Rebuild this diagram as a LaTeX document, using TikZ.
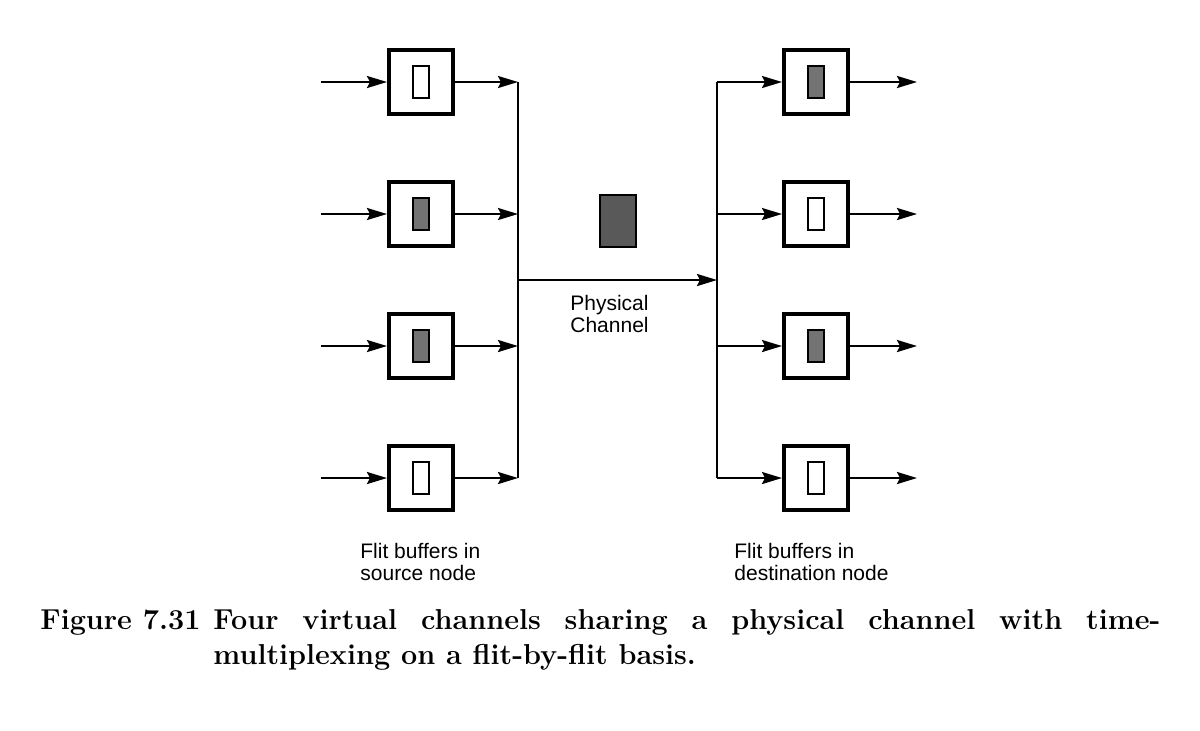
\documentclass[tikz,border=0pt]{standalone}
\usepackage{fontspec}
\newfontfamily\helv{Liberation Sans}
\usetikzlibrary{positioning}
\usetikzlibrary{arrows.meta}
\usetikzlibrary{calc}

\tikzset{
    buffer/.style={draw, line width=2pt, minimum size=32pt, inner sep=0pt},
    flit/.style={draw, line width=1pt, minimum width=8pt, minimum height=16pt, inner sep=0pt},
    fullflit/.style={flit, fill=black!55},
    packet/.style={draw, line width=1pt, fill=black!65, minimum width=18pt, minimum height=26pt, inner sep=0pt},
    wire/.style={line width=1.2pt},
    arr/.style={wire, -{Stealth[length=10pt,width=6pt,inset=1.5pt]}},
    lbl/.style={font=\helv\fontsize{10.5}{11}\selectfont, align=left, inner sep=0pt},
}

\begin{document}
\begin{tikzpicture}[x=0.5pt,y=-0.5pt, node distance=32pt]
    \useasboundingbox (0,0) rectangle (1200,730);

    % source buffers
    \node(s1) [buffer] at (421,82) {};
    \node(s2) [buffer, below=of s1] {};
    \node(s3) [buffer, below=of s2] {};
    \node(s4) [buffer, below=of s3] {};

    % destination buffers
    \node(d1) [buffer, right=163.5pt of s1] {};
    \node(d2) [buffer, right=163.5pt of s2] {};
    \node(d3) [buffer, right=163.5pt of s3] {};
    \node(d4) [buffer, right=163.5pt of s4] {};

    % flits
    \node(s1f) [flit] at (s1) {};
    \node(s2f) [fullflit] at (s2) {};
    \node(s3f) [fullflit] at (s3) {};
    \node(s4f) [flit] at (s4) {};
    \node(d1f) [fullflit] at (d1) {};
    \node(d2f) [flit] at (d2) {};
    \node(d3f) [fullflit] at (d3) {};
    \node(d4f) [flit] at (d4) {};

    % wire ends
    \coordinate[left=33pt of s1] (s1in);
    \coordinate[left=33pt of s2] (s2in);
    \coordinate[left=33pt of s3] (s3in);
    \coordinate[left=33pt of s4] (s4in);
    \coordinate[right=31.5pt of s1] (lb1);
    \coordinate[right=31.5pt of s2] (lb2);
    \coordinate[right=31.5pt of s3] (lb3);
    \coordinate[right=31.5pt of s4] (lb4);
    \coordinate[left=32.5pt of d1] (rb1);
    \coordinate[left=32.5pt of d2] (rb2);
    \coordinate[left=32.5pt of d3] (rb3);
    \coordinate[left=32.5pt of d4] (rb4);
    \coordinate[right=33.5pt of d1] (d1out);
    \coordinate[right=33.5pt of d2] (d2out);
    \coordinate[right=33.5pt of d3] (d3out);
    \coordinate[right=33.5pt of d4] (d4out);
    \coordinate (ch1) at ($(lb2)!0.5!(lb3)$);
    \coordinate (ch2) at (ch1 -| rb1);
    \coordinate (chmid) at ($(ch1)!0.5!(ch2)$);

    \draw[arr] (s1in) -- (s1);
    \draw[arr] (s2in) -- (s2);
    \draw[arr] (s3in) -- (s3);
    \draw[arr] (s4in) -- (s4);
    \draw[arr] (s1) -- (lb1);
    \draw[arr] (s2) -- (lb2);
    \draw[arr] (s3) -- (lb3);
    \draw[arr] (s4) -- (lb4);
    \draw[wire] (lb1) -- (lb4);

    \draw[arr] (ch1) -- (ch2);

    \draw[wire] (rb1) -- (rb4);
    \draw[arr] (rb1) -- (d1);
    \draw[arr] (rb2) -- (d2);
    \draw[arr] (rb3) -- (d3);
    \draw[arr] (rb4) -- (d4);
    \draw[arr] (d1) -- (d1out);
    \draw[arr] (d2) -- (d2out);
    \draw[arr] (d3) -- (d3out);
    \draw[arr] (d4) -- (d4out);

    \node(pkt) [packet, above=16pt of chmid] {};
    \node(plbl) [lbl, below=7.5pt of chmid, xshift=-4pt] {Physical\\Channel};

    \node(slbl) [lbl, anchor=north west] at ($(s4.south west)+(-13.5pt,-15.5pt)$) {Flit buffers in\\source node};
    \node(dlbl) [lbl, anchor=north west] at ($(d4.south west)+(-24pt,-15.5pt)$) {Flit buffers in\\destination node};

    \node(cap) [anchor=north west, inner sep=0pt, text width=560pt, align=justify,
        font=\fontsize{14.4}{17.5}\selectfont\bfseries] at (40,609)
        {\hangindent=86.5pt\hangafter=1\noindent\makebox[86.5pt][l]{Figure 7.31}Four virtual channels sharing a physical channel with time-\linebreak multiplexing on a flit-by-flit basis.\par};
\end{tikzpicture}
\end{document}
